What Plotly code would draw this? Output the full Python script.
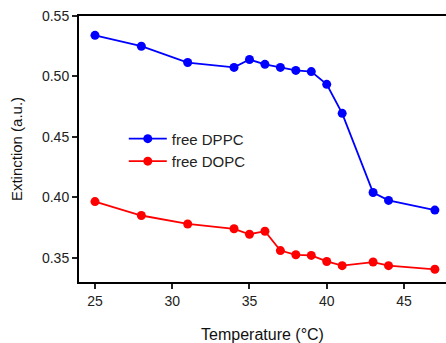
import plotly.graph_objects as go

temperature = [25, 28, 31, 34, 35, 36, 37, 38, 39, 40, 41, 43, 44, 47]
dppc = [0.534, 0.525, 0.5115, 0.5075, 0.514, 0.510, 0.5075, 0.505, 0.504, 0.4935, 0.4695, 0.404, 0.3975, 0.3895]
dopc = [0.3965, 0.385, 0.378, 0.374, 0.3695, 0.372, 0.356, 0.3525, 0.352, 0.347, 0.3435, 0.3465, 0.3435, 0.3405]
x_ticks = [25, 30, 35, 40, 45]
y_ticks = [0.35, 0.40, 0.45, 0.50, 0.55]
y_ticklabels = ["0.35", "0.40", "0.45", "0.50", "0.55"]

font_family = "Liberation Sans, Arial, sans-serif"

fig = go.Figure()
fig.add_trace(go.Scatter(x=temperature, y=dppc, mode="lines+markers", name="free DPPC",
                         line=dict(color="#0000ff", width=1.8),
                         marker=dict(color="#0000ff", size=9)))
fig.add_trace(go.Scatter(x=temperature, y=dopc, mode="lines+markers", name="free DOPC",
                         line=dict(color="#ff0000", width=1.8),
                         marker=dict(color="#ff0000", size=9)))

fig.update_layout(
    width=446, height=343,
    margin=dict(l=79, r=0, t=16, b=61),
    paper_bgcolor="white", plot_bgcolor="white",
    font=dict(family=font_family, size=14, color="#222"),
    showlegend=True,
    legend=dict(x=0.122, y=0.6, xanchor="left", yanchor="top",
                bgcolor="rgba(0,0,0,0)", font=dict(size=15, color="#222"),
                tracegroupgap=0, itemwidth=38),
    xaxis=dict(range=[23.965, 47.72], tickvals=x_ticks, ticks="outside", ticklen=5,
               tickwidth=1.5, tickcolor="#222", showline=True, linecolor="black",
               linewidth=2, mirror=True, showgrid=False, zeroline=False,
               title=dict(text="Temperature (°C)", font=dict(size=16, color="#111"), standoff=21)),
    yaxis=dict(range=[0.33, 0.55], tickvals=y_ticks, ticktext=y_ticklabels, ticks="outside",
               ticklen=5, tickwidth=1.5, tickcolor="#222", showline=True, linecolor="black",
               linewidth=2, showgrid=False, zeroline=False,
               title=dict(text="Extinction (a.u.)", font=dict(size=15, color="#111"), standoff=16)),
)

fig.write_html("out.html", config={"displayModeBar": False},
               post_script="document.body.style.margin='0';document.body.style.overflow='hidden';")
